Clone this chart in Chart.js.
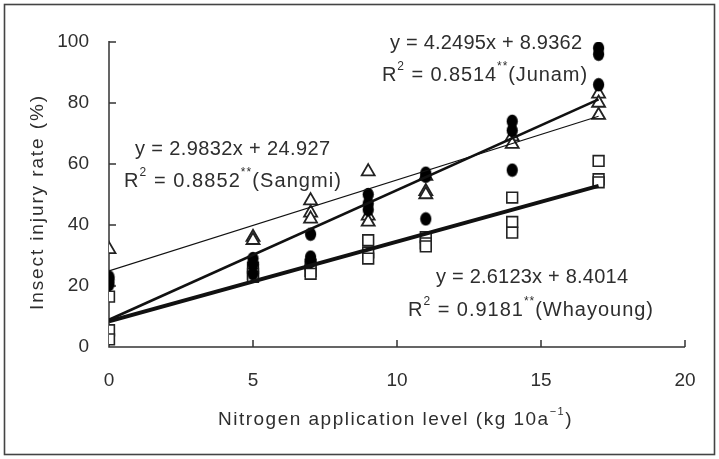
<!DOCTYPE html>
<html>
<head>
<meta charset="utf-8">
<script src="https://cdn.jsdelivr.net/npm/chart.js@4.4.1/dist/chart.umd.min.js"></script>
<style>
  html, body { margin: 0; padding: 0; background: #fff; }
  #wrap { position: absolute; left: 0; top: 0; width: 719px; height: 459px; }
</style>
</head>
<body>
<div id="wrap"><canvas id="c" width="719" height="459"></canvas></div>
<script>
// ---- Data ----
const xTickValues = [0, 5, 10, 15, 20];
const yTickValues = [0, 20, 40, 60, 80, 100];
const xAxisTitle = "Nitrogen application level (kg 10a";
const yAxisTitle = "Insect injury rate (%)";

// Junam (filled circles): [nitrogen level, injury rate]
const junamX = [0, 0, 0, 5, 5, 5, 7, 7, 7, 9, 9, 9, 11, 11, 11, 14, 14, 14, 17, 17, 17];
const junamY = [23, 22, 20.5, 29, 27, 24, 37, 29.5, 28, 50, 47, 45, 57, 56, 42, 74, 71, 58, 98, 96, 86];

// Sangmi (open triangles)
const sangmiX = [0, 5, 5, 7, 7, 7, 9, 9, 9, 11, 11, 11, 14, 14, 17, 17, 17];
const sangmiY = [32, 36, 35, 48, 44, 42, 57.5, 43, 41, 56, 51, 50, 69, 66.5, 83, 80, 76];

// Whayoung (open squares)
const whayoungX = [0, 0, 0, 5, 5, 5, 7, 7, 7, 9, 9, 9, 11, 11, 11, 14, 14, 14, 17, 17, 17];
const whayoungY = [16.5, 5.5, 2.5, 26, 24, 23, 27, 25, 24, 35, 31, 29, 36, 34, 33, 49, 41, 37.5, 61, 55, 54];

// Regression line end points (x = 0 and x = 17)
const fitX = [0, 17];
const junamFitY = [8.94, 81.18];
const sangmiFitY = [24.93, 75.64];
const whayoungFitY = [8.40, 52.81];

// Equation labels
const junamEq = "y = 4.2495x + 8.9362";
const junamR2 = ["R", "2", " = 0.8514", "**", "(Junam)"];
const sangmiEq = "y = 2.9832x + 24.927";
const sangmiR2 = ["R", "2", " = 0.8852", "**", "(Sangmi)"];
const whayoungEq = "y = 2.6123x + 8.4014";
const whayoungR2 = ["R", "2", " = 0.9181", "**", "(Whayoung)"];

// ---- build chart ----
const pts = (xs, ys) => xs.map((x, i) => ({ x: x, y: ys[i] }));

// elliptical filled marker (the reference circles are slightly tall)
const ell = document.createElement('canvas');
ell.width = 13; ell.height = 15;
(function () {
  const g = ell.getContext('2d');
  g.fillStyle = '#000';
  g.beginPath();
  g.ellipse(6.5, 7.5, 5.6, 6.8, 0, 0, Math.PI * 2);
  g.fill();
})();

const FONT = '"Liberation Sans", Arial, sans-serif';
const TXT = '#2e2e2e';

function drawFit(ctx, text, x0, x1, yc, size) {
  ctx.save();
  ctx.font = size + 'px ' + FONT;
  ctx.letterSpacing = '0px';
  const w = ctx.measureText(text).width;
  const ls = (x1 - x0 - w) / Math.max(1, text.length - 1);
  ctx.letterSpacing = ls + 'px';
  ctx.textAlign = 'left';
  ctx.textBaseline = 'middle';
  ctx.fillStyle = TXT;
  ctx.fillText(text, x0, yc);
  ctx.restore();
}

function drawRich(ctx, segs, x0, x1, yc, size) {
  // segs alternate normal / superscript
  ctx.save();
  ctx.textAlign = 'left';
  ctx.textBaseline = 'middle';
  ctx.fillStyle = TXT;
  const supSize = Math.round(size * 0.6);
  let total = 0, nChars = 0;
  segs.forEach((s, i) => {
    ctx.font = (i % 2 ? supSize : size) + 'px ' + FONT;
    ctx.letterSpacing = '0px';
    total += ctx.measureText(s).width;
    nChars += s.length;
  });
  const ls = (x1 - x0 - total) / Math.max(1, nChars);
  let x = x0;
  segs.forEach((s, i) => {
    const sup = i % 2 === 1;
    ctx.font = (sup ? supSize : size) + 'px ' + FONT;
    ctx.letterSpacing = ls + 'px';
    const w = ctx.measureText(s).width;
    ctx.fillText(s, x, sup ? yc - size * 0.42 : yc);
    x += w;
  });
  ctx.restore();
}

const decor = {
  id: 'decor',
  beforeDraw(chart) {
    const ctx = chart.ctx;
    ctx.save();
    ctx.fillStyle = '#fff';
    ctx.fillRect(0, 0, chart.width, chart.height);
    ctx.restore();
  },
  beforeDatasetsDraw(chart) {
    const ctx = chart.ctx;
    const xs = chart.scales.x, ys = chart.scales.y;
    const x0 = xs.getPixelForValue(0), xe = xs.getPixelForValue(20);
    const y0 = ys.getPixelForValue(0), yt = ys.getPixelForValue(100);
    ctx.save();
    ctx.strokeStyle = '#333';
    ctx.lineWidth = 1.5;
    ctx.beginPath();
    ctx.moveTo(x0, yt - 1); ctx.lineTo(x0, y0);
    ctx.lineTo(xe, y0);
    yTickValues.forEach(v => {
      const p = ys.getPixelForValue(v);
      ctx.moveTo(x0, p); ctx.lineTo(x0 + 7, p);
    });
    xTickValues.forEach(v => {
      if (v === 0) return;
      const p = xs.getPixelForValue(v);
      ctx.moveTo(p, y0); ctx.lineTo(p, y0 - 7);
    });
    ctx.stroke();
    ctx.restore();
  },
  afterDraw(chart) {
    const ctx = chart.ctx;
    // outer frame
    ctx.save();
    ctx.strokeStyle = '#444';
    ctx.lineWidth = 1.6;
    ctx.strokeRect(4.5, 4.5, 710, 450);
    ctx.restore();

    // y-axis title
    ctx.save();
    ctx.translate(38, 203);
    ctx.rotate(-Math.PI / 2);
    drawFit(ctx, yAxisTitle, -107, 107, 0, 19);
    ctx.restore();

    // x-axis title with superscript
    drawRich(ctx, [xAxisTitle, "\u22121", ")", ""], 218, 573, 420, 19);

    // equation labels
    drawFit(ctx, junamEq, 390, 582, 43, 20);
    drawRich(ctx, junamR2, 382, 588, 75, 20);
    drawFit(ctx, sangmiEq, 135, 330, 149, 20);
    drawRich(ctx, sangmiR2, 124, 342, 181, 20);
    drawFit(ctx, whayoungEq, 436, 628, 277, 20);
    drawRich(ctx, whayoungR2, 408, 654, 310, 20);
  }
};

new Chart(document.getElementById('c'), {
  type: 'scatter',
  data: {
    datasets: [
      { type: 'line', label: 'Sangmi fit', data: pts(fitX, sangmiFitY), borderColor: '#111', borderWidth: 1.2, pointRadius: 0, fill: false },
      { type: 'line', label: 'Junam fit', data: pts(fitX, junamFitY), borderColor: '#111', borderWidth: 2.6, pointRadius: 0, fill: false },
      { type: 'line', label: 'Whayoung fit', data: pts(fitX, whayoungFitY), borderColor: '#111', borderWidth: 4, pointRadius: 0, fill: false },
      { label: 'Junam', data: pts(junamX, junamY), pointStyle: ell, pointRadius: 6, backgroundColor: '#000', borderColor: '#000' },
      { label: 'Sangmi', data: pts(sangmiX, sangmiY), pointStyle: 'triangle', pointRadius: 7.5, backgroundColor: '#fff', borderColor: '#222', borderWidth: 1.8 },
      { label: 'Whayoung', data: pts(whayoungX, whayoungY), pointStyle: 'rect', pointRadius: 7.6, backgroundColor: '#fff', borderColor: '#222', borderWidth: 1.6 }
    ]
  },
  options: {
    responsive: false,
    animation: false,
    devicePixelRatio: 1,
    layout: { padding: { left: 0, top: 42, right: 34, bottom: 0 } },
    plugins: { legend: { display: false }, tooltip: { enabled: false } },
    scales: {
      x: {
        type: 'linear', min: 0, max: 20,
        afterBuildTicks: s => { s.ticks = xTickValues.map(v => ({ value: v })); },
        afterFit: s => { s.height = 112; },
        grid: { display: false, drawTicks: false },
        border: { display: false },
        ticks: { padding: 22, color: TXT, font: { size: 19, family: FONT } }
      },
      y: {
        type: 'linear', min: 0, max: 100,
        afterBuildTicks: s => { s.ticks = yTickValues.map(v => ({ value: v })); },
        afterFit: s => { s.width = 109; },
        grid: { display: false, drawTicks: false },
        border: { display: false },
        ticks: { padding: 20, color: TXT, font: { size: 19, family: FONT } }
      }
    }
  },
  plugins: [decor]
});
</script>
</body>
</html>
